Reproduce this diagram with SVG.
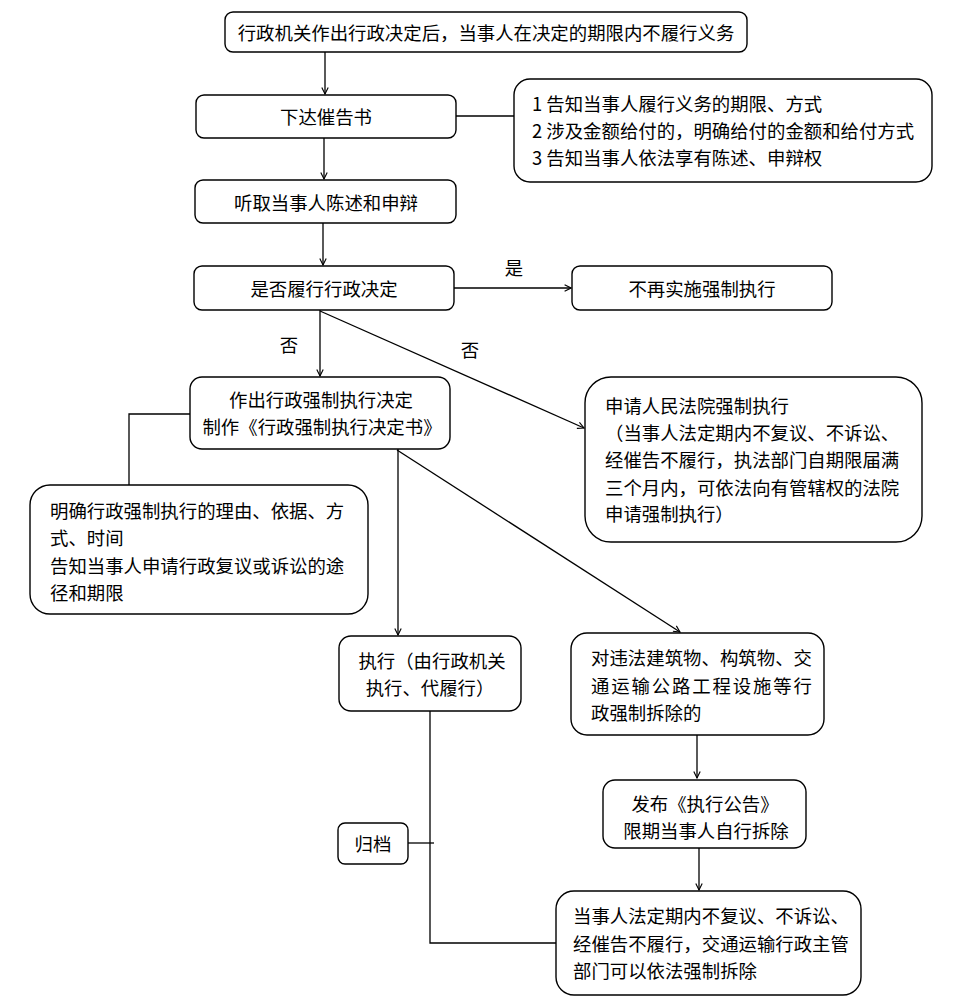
<svg xmlns="http://www.w3.org/2000/svg" width="972" height="1007" viewBox="0 0 972 1007">
<style>
.b{fill:#fff;stroke:#000;stroke-width:1.4}
.t{font-family:"Noto Sans CJK SC","Noto Sans",sans-serif;font-size:18.4px;fill:#000;dominant-baseline:central}
.c{text-anchor:middle}
.l{fill:none;stroke:#000;stroke-width:1.3}
</style>
<defs>
<marker id="a" viewBox="0 0 10 10" refX="9" refY="5" markerWidth="8" markerHeight="8" markerUnits="userSpaceOnUse" orient="auto">
<path d="M1,1 L9,5 L1,9" fill="none" stroke="#000" stroke-width="1.4"/>
</marker>
</defs>
<rect width="972" height="1007" fill="#fff"/>
<g id="connectors">
<line class="l" x1="325" y1="52" x2="325" y2="94" marker-end="url(#a)"/>
<line class="l" x1="456" y1="116" x2="514" y2="116"/>
<line class="l" x1="324" y1="138" x2="324" y2="179" marker-end="url(#a)"/>
<line class="l" x1="323" y1="223" x2="323" y2="265" marker-end="url(#a)"/>
<line class="l" x1="454" y1="288" x2="571" y2="288" marker-end="url(#a)"/>
<line class="l" x1="320" y1="310" x2="320" y2="376" marker-end="url(#a)"/>
<line class="l" x1="320" y1="311" x2="584" y2="428" marker-end="url(#a)"/>
<polyline class="l" points="190,414 129,414 129,485"/>
<line class="l" x1="398" y1="449" x2="398" y2="635" marker-end="url(#a)"/>
<line class="l" x1="397" y1="450" x2="680" y2="632" marker-end="url(#a)"/>
<line class="l" x1="697" y1="735" x2="697" y2="778" marker-end="url(#a)"/>
<line class="l" x1="699" y1="848" x2="699" y2="890" marker-end="url(#a)"/>
<polyline class="l" points="430,711 430,943 556,943"/>
<line class="l" x1="408" y1="843" x2="434" y2="843"/>
<text class="t c" x="514" y="267">是</text>
<text class="t c" x="289" y="344">否</text>
<text class="t c" x="470" y="349">否</text>
</g>
<g id="n1"><rect class="b" x="225" y="12" width="522" height="40" rx="8"/>
<text class="t c" x="486" y="32">行政机关作出行政决定后，当事人在决定的期限内不履行义务</text></g>
<g id="n2"><rect class="b" x="196" y="95" width="260" height="43" rx="8"/>
<text class="t c" x="326" y="116">下达催告书</text></g>
<g id="n3"><rect class="b" x="514" y="79" width="418" height="103" rx="16"/>
<text class="t" x="532" y="103">1 告知当事人履行义务的期限、方式</text>
<text class="t" x="532" y="130">2 涉及金额给付的，明确给付的金额和给付方式</text>
<text class="t" x="532" y="157">3 告知当事人依法享有陈述、申辩权</text></g>
<g id="n4"><rect class="b" x="195" y="180" width="261" height="43" rx="8"/>
<text class="t c" x="326" y="202">听取当事人陈述和申辩</text></g>
<g id="n5"><rect class="b" x="194" y="266" width="260" height="44" rx="8"/>
<text class="t c" x="324" y="288">是否履行行政决定</text></g>
<g id="n6"><rect class="b" x="572" y="266" width="260" height="44" rx="8"/>
<text class="t c" x="702" y="288">不再实施强制执行</text></g>
<g id="n7"><rect class="b" x="190" y="377" width="260" height="72" rx="12"/>
<text class="t c" x="321" y="399">作出行政强制执行决定</text>
<text class="t c" x="322" y="426">制作《行政强制执行决定书》</text></g>
<g id="n8"><rect class="b" x="585" y="377" width="337" height="165" rx="26"/>
<text class="t" x="605" y="405">申请人民法院强制执行</text>
<text class="t" x="605" y="432">（当事人法定期内不复议、不诉讼、</text>
<text class="t" x="605" y="459">经催告不履行，执法部门自期限届满</text>
<text class="t" x="605" y="487">三个月内，可依法向有管辖权的法院</text>
<text class="t" x="605" y="513">申请强制执行）</text></g>
<g id="n9"><rect class="b" x="30" y="485" width="338" height="129" rx="20"/>
<text class="t" x="50" y="510">明确行政强制执行的理由、依据、方</text>
<text class="t" x="50" y="537">式、时间</text>
<text class="t" x="50" y="565">告知当事人申请行政复议或诉讼的途</text>
<text class="t" x="50" y="592">径和期限</text></g>
<g id="n10"><rect class="b" x="339" y="636" width="182" height="75" rx="12"/>
<text class="t c" x="432" y="660">执行（由行政机关</text>
<text class="t c" x="430" y="687">执行、代履行）</text></g>
<g id="n11"><rect class="b" x="571" y="633" width="253" height="102" rx="16"/>
<text class="t" x="591" y="657" textLength="221" lengthAdjust="spacing">对违法建筑物、构筑物、交</text>
<text class="t" x="591" y="685" textLength="221" lengthAdjust="spacing">通运输公路工程设施等行</text>
<text class="t" x="591" y="712">政强制拆除的</text></g>
<g id="n12"><rect class="b" x="603" y="780" width="203" height="68" rx="12"/>
<text class="t c" x="705" y="803">发布《执行公告》</text>
<text class="t c" x="706" y="830">限期当事人自行拆除</text></g>
<g id="n13"><rect class="b" x="556" y="891" width="305" height="104" rx="18"/>
<text class="t" x="573" y="915">当事人法定期内不复议、不诉讼、</text>
<text class="t" x="573" y="943">经催告不履行，交通运输行政主管</text>
<text class="t" x="573" y="970">部门可以依法强制拆除</text></g>
<g id="n14"><rect class="b" x="338" y="823" width="70" height="41" rx="7"/>
<text class="t c" x="373" y="843">归档</text></g>
</svg>
